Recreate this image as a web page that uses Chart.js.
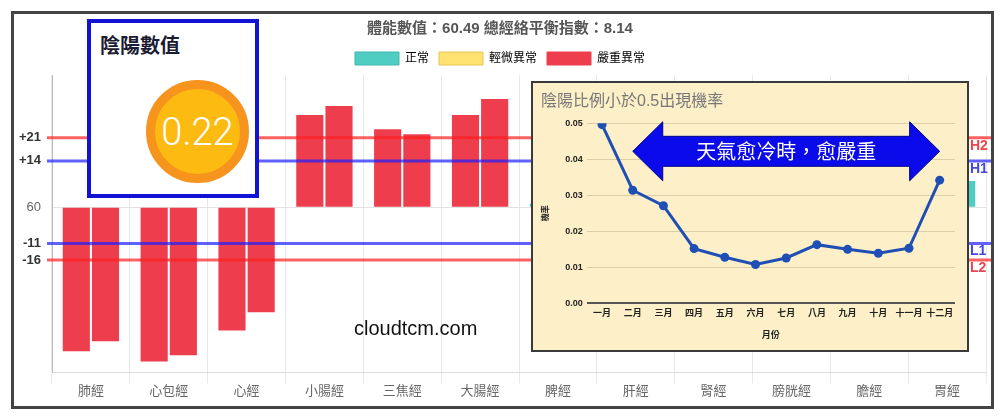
<!DOCTYPE html>
<html>
<head>
<meta charset="utf-8">
<script src="https://cdn.jsdelivr.net/npm/chart.js@4.4.1/dist/chart.umd.min.js"></script>
<style>
    body { margin: 0; background: #fff; width: 1000px; height: 418px; position: relative; overflow: hidden; }
    #frame { position: absolute; left: 11px; top: 11px; width: 983px; height: 398px; border: 3px solid #444; box-sizing: border-box; overflow: hidden; }
    #mainWrap { position: absolute; left: 0; top: 0; width: 977px; height: 392px; }
    #yinyang { position: absolute; left: 87px; top: 19px; width: 172px; height: 179px; border: 4px solid #1212d4; box-sizing: border-box; background: #fff; }
    #yinyang .ttl { position: absolute; left: 9px; top: 12px; font: bold 20px "Noto Sans CJK TC", sans-serif; line-height: 20px; color: #1b1b33; }
    #yinyang .ball { position: absolute; left: 55px; top: 57px; width: 103px; height: 103px; border-radius: 50%; box-sizing: border-box;
        background: #fdbb12; border: 9px solid #f7941d; color: #fff; font: 38px Roboto, "Liberation Sans", sans-serif; font-weight: 300;
        display: flex; align-items: center; justify-content: center; }
    #inset { position: absolute; left: 531px; top: 81px; width: 438px; height: 271px; border: 2px solid #3a3a3a; box-sizing: border-box; background: #fdf0c8; }
    #insetWrap { position: absolute; left: 0; top: 0; width: 434px; height: 267px; }
    #site { position: absolute; left: 354px; top: 318px; font: 20px "Liberation Sans", sans-serif; line-height: 20px; color: #111; }
</style>
</head>
<body>
<div id="frame">
    <div id="mainWrap"><canvas id="meridianChart"></canvas></div>
</div>
<div id="site">cloudtcm.com</div>
<div id="yinyang">
    <div class="ttl">陰陽數值</div>
    <div class="ball">0.22</div>
</div>
<div id="inset">
    <div id="insetWrap"><canvas id="rateChart"></canvas></div>
</div>

<script>
// 經絡數值 (60 為中線)
const meridians = ['肺經', '心包經', '心經', '小腸經', '三焦經', '大腸經', '脾經', '肝經', '腎經', '膀胱經', '膽經', '胃經'];
const leftValues = [16.4, 13.3, 22.7, 87.9, 83.6, 87.9, 61, 63, 55, 66, 52, 57];
const rightValues = [19.4, 15.2, 28.2, 90.6, 82.1, 92.7, 64, 52, 60, 57, 63, 67.9];
const centerValue = 60;

// 參考線 H2 / H1 / L1 / L2 (相對中線)
const refNames = ['H2', 'H1', 'L1', 'L2'];
const refOffsets = [21, 14, -11, -16];
const yTickValues = [81, 74, 60, 49, 44];

// 陰陽比例小於0.5出現機率
const months = ['一月', '二月', '三月', '四月', '五月', '六月', '七月', '八月', '九月', '十月', '十一月', '十二月'];
const rates = [0.0496, 0.0314, 0.0271, 0.0152, 0.0128, 0.0108, 0.0126, 0.0163, 0.0150, 0.0139, 0.0153, 0.0342];

const statusNames = ['正常', '輕微異常', '嚴重異常'];
const statusColors = ['#50cdc3', '#ffe270', '#ee3e4e'];
const statusBorders = ['#3fb8ae', '#e6c650', '#ee3e4e'];

Chart.defaults.font.family = '"Liberation Sans", "Noto Sans CJK TC", sans-serif';

function statusOf(v) {
    const d = v - centerValue;
    if (d > refOffsets[1] || d < refOffsets[2]) {
        return (d > refOffsets[0] || d < refOffsets[3]) ? 2 : 1;
    }
    return 0;
}

const refLinePlugin = {
    id: 'refLines',
    afterDatasetsDraw(chart) {
        const ctx = chart.ctx;
        const y = chart.scales.y;
        const area = chart.chartArea;
        ctx.save();
        refNames.forEach((name, i) => {
            const py = y.getPixelForValue(centerValue + refOffsets[i]);
            const isRed = (name === 'H2' || name === 'L2');
            ctx.strokeStyle = isRed ? 'rgba(255, 30, 30, 0.7)' : 'rgba(30, 30, 255, 0.7)';
            ctx.lineWidth = 3;
            ctx.beginPath();
            ctx.moveTo(area.left - 5, py);
            ctx.lineTo(chart.width, py);
            ctx.stroke();
            ctx.fillStyle = isRed ? '#e8474f' : '#4747e0';
            ctx.font = 'bold 14px "Liberation Sans", sans-serif';
            ctx.textBaseline = 'top';
            ctx.textAlign = 'left';
            ctx.fillText(name, area.right - 16, py + 1);
        });
        ctx.restore();
    }
};

const meridianCtx = document.getElementById('meridianChart');
const meridianChart = new Chart(meridianCtx.getContext('2d'), {
    type: 'bar',
    data: {
        labels: meridians,
        datasets: [{
            label: '左',
            data: leftValues,
            base: centerValue,
            backgroundColor: leftValues.map(v => statusColors[statusOf(v)]),
            categoryPercentage: 0.75,
            barPercentage: 0.93
        }, {
            label: '右',
            data: rightValues,
            base: centerValue,
            backgroundColor: rightValues.map(v => statusColors[statusOf(v)]),
            categoryPercentage: 0.75,
            barPercentage: 0.93
        }]
    },
    options: {
        responsive: true,
        maintainAspectRatio: false,
        animation: false,
        layout: { padding: { left: 0, right: 5, top: 0, bottom: 7 } },
        plugins: {
            title: {
                display: true,
                text: '體能數值：60.49 總經絡平衡指數：8.14',
                color: '#555',
                font: { size: 15, weight: 'bold' },
                padding: { top: 6, bottom: 4 }
            },
            legend: {
                position: 'top',
                onClick: null,
                labels: {
                    boxWidth: 44,
                    boxHeight: 13,
                    color: '#666',
                    font: { size: 12 },
                    padding: 10,
                    generateLabels: () => statusNames.map((n, i) => ({
                        text: n,
                        fillStyle: statusColors[i],
                        strokeStyle: statusBorders[i],
                        lineWidth: 1,
                        hidden: false,
                        datasetIndex: 0
                    }))
                }
            },
            tooltip: { enabled: false }
        },
        scales: {
            x: {
                grid: { color: '#e8e8e8', tickLength: 11, offset: true },
                border: { color: '#ddd' },
                ticks: { color: '#666', font: { size: 13 }, padding: 0 }
            },
            y: {
                min: 10,
                max: 100,
                afterBuildTicks: s => { s.ticks = yTickValues.map(v => ({ value: v })); },
                afterFit: s => { s.width = 38; },
                grid: {
                    drawTicks: false,
                    color: c => (c.tick && c.tick.value === centerValue) ? '#e3e3e3' : 'rgba(0,0,0,0)'
                },
                border: { color: '#bbb' },
                ticks: {
                    padding: 11,
                    callback: v => v === centerValue ? String(v) : (v > centerValue ? '+' : '') + (v - centerValue),
                    color: c => (c.tick && c.tick.value === centerValue) ? '#666' : '#333',
                    font: c => (c.tick && c.tick.value === centerValue) ? { size: 13 } : { size: 13, weight: 'bold' }
                }
            }
        }
    },
    plugins: [refLinePlugin]
});

// 雙向箭頭註記
const arrowPlugin = {
    id: 'coldArrow',
    afterDraw(chart) {
        const ctx = chart.ctx;
        const x = chart.scales.x;
        const y = chart.scales.y;
        const left = x.getPixelForValue(1);
        const right = x.getPixelForValue(11);
        const cy = y.getPixelForValue(0.0422);
        const headLen = 30, headH = 29.5, bodyH = 15;
        ctx.save();
        ctx.beginPath();
        ctx.moveTo(left, cy);
        ctx.lineTo(left + headLen, cy - headH);
        ctx.lineTo(left + headLen, cy - bodyH);
        ctx.lineTo(right - headLen, cy - bodyH);
        ctx.lineTo(right - headLen, cy - headH);
        ctx.lineTo(right, cy);
        ctx.lineTo(right - headLen, cy + headH);
        ctx.lineTo(right - headLen, cy + bodyH);
        ctx.lineTo(left + headLen, cy + bodyH);
        ctx.lineTo(left + headLen, cy + headH);
        ctx.closePath();
        ctx.fillStyle = '#0a0aeb';
        ctx.fill();
        ctx.strokeStyle = '#00008a';
        ctx.lineWidth = 1;
        ctx.stroke();
        ctx.fillStyle = '#fff';
        ctx.font = '20px "Noto Sans CJK TC", sans-serif';
        ctx.textAlign = 'center';
        ctx.textBaseline = 'middle';
        ctx.fillText('天氣愈冷時，愈嚴重', (left + right) / 2, cy);
        ctx.restore();
    }
};

const rateCtx = document.getElementById('rateChart');
const rateChart = new Chart(rateCtx.getContext('2d'), {
    type: 'line',
    data: {
        labels: months,
        datasets: [{
            label: '機率',
            data: rates,
            borderColor: '#1f4fb4',
            backgroundColor: '#1f4fb4',
            borderWidth: 3,
            pointRadius: 4.5,
            pointBackgroundColor: '#1f4fb4',
            pointBorderWidth: 0,
            tension: 0
        }]
    },
    options: {
        responsive: true,
        maintainAspectRatio: false,
        animation: false,
        layout: { padding: { left: 8, right: 12, top: 0, bottom: 9 } },
        plugins: {
            title: {
                display: true,
                text: '陰陽比例小於0.5出現機率',
                align: 'start',
                color: '#777',
                font: { size: 16, weight: 'normal' },
                padding: { top: 9, bottom: 12 }
            },
            legend: { display: false },
            tooltip: { enabled: false }
        },
        scales: {
            x: {
                offset: true,
                grid: { display: false },
                border: { display: false },
                ticks: { color: '#222', font: { size: 9, weight: 'bold' }, padding: -3, maxRotation: 0, autoSkip: false },
                title: { display: true, text: '月份', color: '#222', font: { size: 9, weight: 'bold' }, padding: { top: 14, bottom: 0 } }
            },
            y: {
                min: 0,
                max: 0.05,
                afterFit: s => { s.width = 45.7; },
                grid: {
                    drawTicks: false,
                    color: c => (c.tick && c.tick.value === 0) ? '#555' : '#dccfa5',
                    lineWidth: c => (c.tick && c.tick.value === 0) ? 2 : 1
                },
                border: { display: false },
                ticks: {
                    stepSize: 0.01,
                    padding: 4,
                    color: '#222',
                    font: { size: 9, weight: 'bold' },
                    callback: v => v.toFixed(2)
                },
                title: { display: true, text: '機率', color: '#222', font: { size: 8, weight: 'bold' }, padding: 0 }
            }
        }
    },
    plugins: [arrowPlugin]
});
</script>
</body>
</html>
